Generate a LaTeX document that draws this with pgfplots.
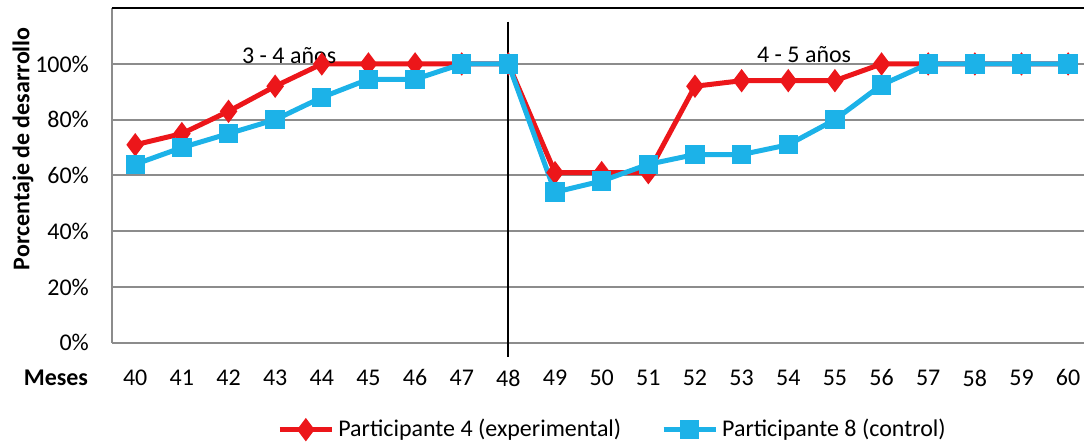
\documentclass[border=0pt]{standalone}
\usepackage{pgfplots}
\pgfplotsset{compat=1.18}
\usepackage{fontspec}
\setmainfont{Carlito}
\definecolor{cred}{RGB}{236,22,26}
\definecolor{cblue}{RGB}{28,178,232}
\definecolor{cgrid}{RGB}{140,140,140}
\begin{document}
\begin{tikzpicture}
\path[use as bounding box] (-56pt,-52pt) rectangle (486.5pt,171.5pt);
\begin{axis}[
  at={(0,0)}, anchor=south west,
  width=486.5pt, height=167.4pt, scale only axis,
  xmin=39.5, xmax=60.34, ymin=0, ymax=120,
  xtick={40,...,60},
  ytick={0,20,40,60,80,100},
  yticklabels={0\%,20\%,40\%,60\%,80\%,100\%},
  major tick length=0pt,
  ymajorgrids, grid style={cgrid, line width=1pt},
  axis line style={draw=none},
  clip=false,
  font=\fontsize{12}{14}\selectfont,
  tick label style={font=\fontsize{12}{14}\selectfont},
  /pgf/number format/assume math mode=true,
  yticklabel style={xshift=-8pt},
  xticklabel style={yshift=-10pt},
  legend columns=2,
  legend style={draw=none, at={(0.516,-0.26)}, anchor=center, font=\fontsize{12}{14}\selectfont,
    /tikz/every even column/.append style={column sep=18pt}},
  legend image code/.code={\draw[mark repeat=2,mark phase=2,#1] plot coordinates {(0pt,0pt)(13pt,0pt)(26pt,0pt)};},
]
\draw[cgrid, line width=1pt] (rel axis cs:0,0) -- (rel axis cs:0,1);
\draw[cgrid, line width=1pt] (rel axis cs:0,0) -- (rel axis cs:1,0);
\draw[black, line width=1pt] (rel axis cs:0,1) -- (rel axis cs:1,1);
\draw[black, line width=1pt] (axis cs:48,115.2) -- (axis cs:48,-5);
\addplot[cred, line width=2.5pt, mark=diamond*, mark size=3.8pt, mark options={solid}] coordinates {
(40,71) (41,75) (42,83) (43,92) (44,100) (45,100) (46,100) (47,100) (48,100)
(49,61) (50,61) (51,61) (52,92) (53,94) (54,94) (55,94) (56,100) (57,100) (58,100) (59,100) (60,100)};
\addlegendentry{Participante 4 (experimental)}
\addplot[cblue, line width=2.5pt, mark=square*, mark size=3.6pt, mark options={solid}] coordinates {
(40,64) (41,70) (42,75) (43,80) (44,88) (45,94.5) (46,94.5) (47,100) (48,100)
(49,54) (50,58) (51,64) (52,67.5) (53,67.5) (54,71) (55,80) (56,92.5) (57,100) (58,100) (59,100) (60,100)};
\addlegendentry{Participante 8 (control)}
\node[font=\fontsize{12}{14}\selectfont] at (axis cs:43.3,103) {3 - 4 años};
\node[font=\fontsize{12}{14}\selectfont] at (axis cs:54.34,103.5) {4 - 5 años};
\node[font=\bfseries\fontsize{12}{14}\selectfont] at ([xshift=-28pt,yshift=-17.5pt]rel axis cs:0,0) {Meses};
\node[font=\bfseries\fontsize{12}{14}\selectfont, rotate=90] at ([xshift=-44.5pt]rel axis cs:0,0.58) {Porcentaje de desarrollo};
\end{axis}
\end{tikzpicture}
\end{document}
